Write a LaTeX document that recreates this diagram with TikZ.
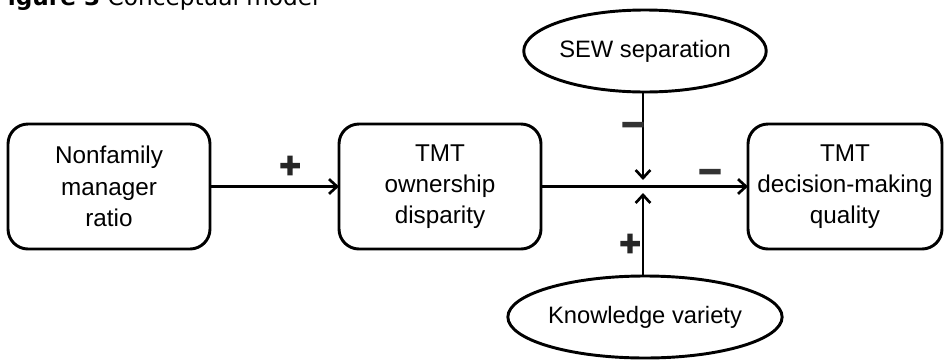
\documentclass[tikz,border=0pt]{standalone}
\usepackage{fontspec}
\setmainfont{Liberation Sans}
\newfontfamily\titlefont{DejaVu Sans}
\newfontfamily\signfont{Liberation Sans Bold}[FakeBold=4]
\usetikzlibrary{shapes.geometric,arrows.meta}
\begin{document}
\begin{tikzpicture}[x=0.75pt,y=-0.75pt,
  every node/.style={inner sep=0pt, outer sep=0pt},
  varbox/.style={draw, line width=2.2pt, rounded corners=15pt, minimum width=202*0.75pt, minimum height=125*0.75pt, align=center, font=\fontsize{18.2}{23.4}\selectfont},
  modell/.style={draw, ellipse, line width=2.2pt, minimum width=210*0.75pt, minimum height=82*0.75pt, font=\fontsize{17.8}{22.5}\selectfont},
  link/.style={line width=2.2pt, -{Straight Barb[length=6pt, width=11pt, line width=2pt]}},
  plussign/.style={font=\signfont\fontsize{27}{27}\selectfont, text=black!85},
  minussign/.style={font=\signfont\fontsize{30}{30}\selectfont, text=black!80}
]
\useasboundingbox (0,0) rectangle (947,361);
\node[anchor=base west, font=\titlefont\fontsize{17.4}{17.4}\selectfont] (title) at (-8,5) {\textbf{Figure 3} Conceptual model};
\node[varbox] (b1) at (109,186.5) {Nonfamily\\manager\\ratio};
\node[varbox] (b2) at (440,186.5) {TMT\\ownership\\disparity};
\node[varbox, minimum width=194*0.75pt] (b3) at (845,186.5) {TMT\\decision-making\\quality};
\node[modell] (e1) at (645,51) {SEW separation};
\node[modell] (e2) at (645,317) {Knowledge variety};
\coordinate (jt) at (643,180);
\coordinate (jb) at (643,193);
\coordinate (e1b) at (643,92);
\coordinate (e2t) at (643,276);
\draw[link] (b1.east) -- (b2.west);
\draw[link] (b2.east) -- (b3.west);
\draw[link] (e1b) -- (jt);
\draw[link] (e2t) -- (jb);
\node[plussign] (p1) at (290,167) {+};
\node[minussign] (m1) at (633,129) {–};
\node[minussign] (m2) at (710,176) {–};
\node[plussign] (p2) at (630,245) {+};
\end{tikzpicture}
\end{document}
